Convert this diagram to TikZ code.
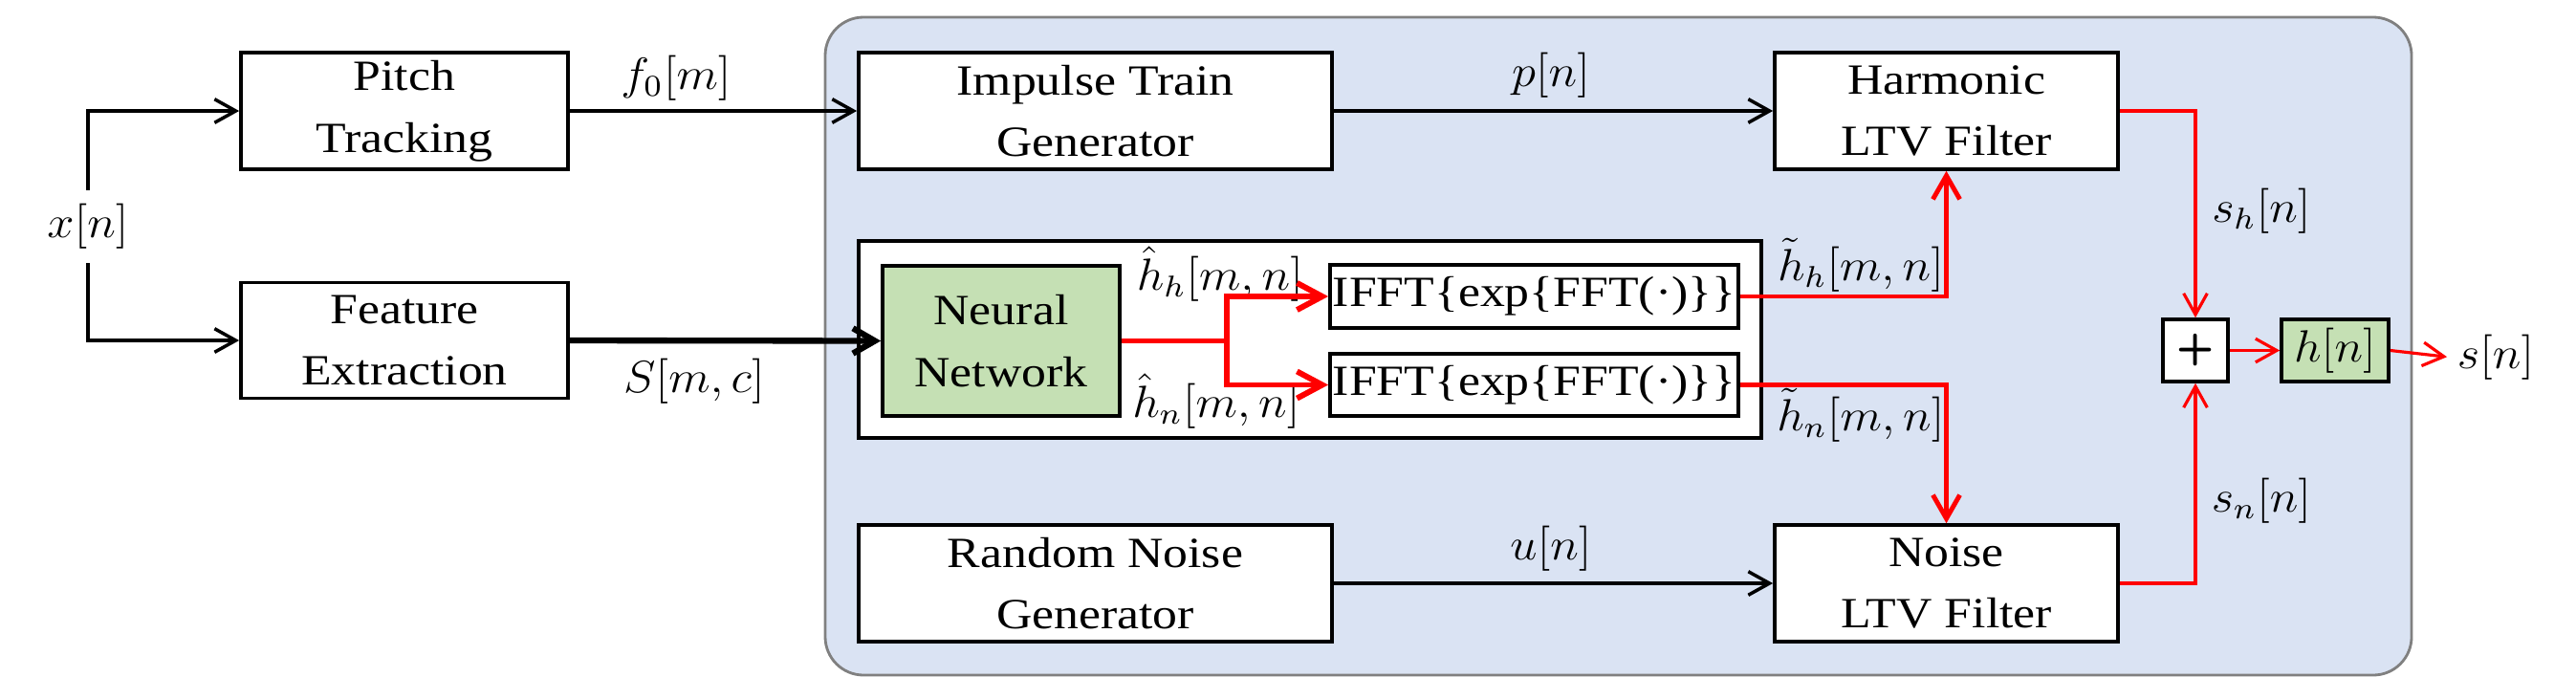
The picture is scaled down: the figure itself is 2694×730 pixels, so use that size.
\documentclass[tikz,border=0pt]{standalone}
\usepackage[no-math]{fontspec}
\setmainfont[FakeStretch=1.15]{Liberation Serif}
\usepackage{graphicx}
\usetikzlibrary{arrows.meta}
\definecolor{bluebg}{HTML}{DAE3F3}
\definecolor{bluebd}{HTML}{808080}
\definecolor{nngreen}{HTML}{C5E0B4}
\newcommand\txtf{\fontsize{12.8}{18.4}\selectfont}
\newcommand\mth[1]{\scalebox{1.2}[1.117]{\fontsize{12}{14}\selectfont$#1$}}
\begin{document}
\begin{tikzpicture}[x=0.01cm,y=-0.01cm,
  box/.style={draw, line width=1pt, fill=white, inner sep=0pt, align=center, font=\txtf},
  lab/.style={inner sep=0pt, anchor=base},
  arr/.style={line width=1pt, -{Straight Barb[length=6.3pt,width=7pt]}},
  thickarr/.style={line width=1.8pt, -{Straight Barb[length=6.5pt,width=7.5pt]}},
  redarr/.style={red, line width=0.9pt, -{Straight Barb[length=6.3pt,width=7pt]}},
  redmid/.style={red, line width=1.4pt, -{Straight Barb[length=7pt,width=8pt]}},
  redthick/.style={red, line width=1.7pt},
  redthickarr/.style={red, line width=1.7pt, -{Straight Barb[length=7.5pt,width=8pt]}}]
\useasboundingbox (0,0) rectangle (2694,730);
% background block
\draw[bluebd, line width=0.8pt, fill=bluebg, rounded corners=0.4cm] (863,18) rectangle (2522,706);
% outer NN box
\node[box, line width=1.1pt, minimum width=9.44cm, minimum height=2.06cm] (nnbox) at (1370,355) {};
% blocks
\node[box, minimum width=3.42cm, minimum height=1.22cm] (pitch) at (423,116) {Pitch\\Tracking};
\node[box, minimum width=3.42cm, minimum height=1.21cm] (feat) at (423,356) {Feature\\Extraction};
\node[box, minimum width=4.95cm, minimum height=1.22cm] (impulse) at (1145.5,116) {Impulse Train\\Generator};
\node[box, minimum width=4.95cm, minimum height=1.22cm] (rng) at (1145.5,610) {Random Noise\\Generator};
\node[box, minimum width=3.59cm, minimum height=1.22cm] (harm) at (2035.5,116) {Harmonic\\LTV Filter};
\node[box, minimum width=3.59cm, minimum height=1.22cm] (noise) at (2035.5,610) {Noise\\LTV Filter};
\node[box, fill=nngreen, minimum width=2.48cm, minimum height=1.57cm] (nn) at (1047,356.5) {Neural\\Network};
\node[box, minimum width=4.27cm, minimum height=0.66cm] (ifft1) at (1604.5,310) {IFFT\{exp\{FFT(\textperiodcentered)\}\}};
\node[box, minimum width=4.27cm, minimum height=0.65cm] (ifft2) at (1604.5,402.5) {IFFT\{exp\{FFT(\textperiodcentered)\}\}};
\node[box, minimum width=0.68cm, minimum height=0.65cm, font=\sffamily\bfseries\fontsize{13}{15}\selectfont] (plus) at (2296,366.5) {+};
\node[box, fill=nngreen, minimum width=1.12cm, minimum height=0.65cm] (hn) at (2442,366.5) {\mth{h[n]}};
% labels
\node[inner xsep=0pt, inner ysep=4pt] (xn) at (92,237) {\mth{x[n]}};
\node[lab] (f0) at (707,93) {\mth{f_0[m]}};
\node[lab] (smc) at (726,410) {\mth{S[m,c]}};
\node[lab] (pn) at (1622,90) {\mth{p[n]}};
\node[lab] (un) at (1622,585) {\mth{u[n]}};
\node[lab] (hh) at (1276,303) {\mth{\hat{h}_h[m,n]}};
\node[lab] (hnl) at (1272,436) {\mth{\hat{h}_n[m,n]}};
\node[lab] (th) at (1946,293) {\mth{\tilde{h}_h[m,n]}};
\node[lab] (tn) at (1946,450) {\mth{\tilde{h}_n[m,n]}};
\node[lab] (sh) at (2365,232) {\mth{s_h[n]}};
\node[lab] (snl) at (2365,535) {\mth{s_n[n]}};
\node[lab] (sout) at (2610,385) {\mth{s[n]}};
% black connectors
\draw[arr] (xn.north) |- (pitch.west);
\draw[arr] (xn.south) |- (feat.west);
\draw[arr] (pitch.east) -- (impulse.west);
\draw[thickarr] (feat.east) -- (nn.west);
\draw[arr] (impulse.east) -- (harm.west);
\draw[arr] (rng.east) -- (noise.west);
% red connectors
\draw[redthick] (nn.east) -- ++(110,0) coordinate (jn);
\draw[redthickarr] (jn) |- (ifft1.west);
\draw[redthickarr] (jn) |- (ifft2.west);
\draw[redmid] (ifft1.east) -| (harm.south);
\draw[redmid] (ifft2.east) -| (noise.north);
\draw[redarr] (harm.east) -| (plus.north);
\draw[redarr] (noise.east) -| (plus.south);
\draw[redarr] (plus.east) -- (hn.west);
\draw[redarr] (hn.east) -- ([xshift=-0.1cm]sout.west);
\end{tikzpicture}
\end{document}
